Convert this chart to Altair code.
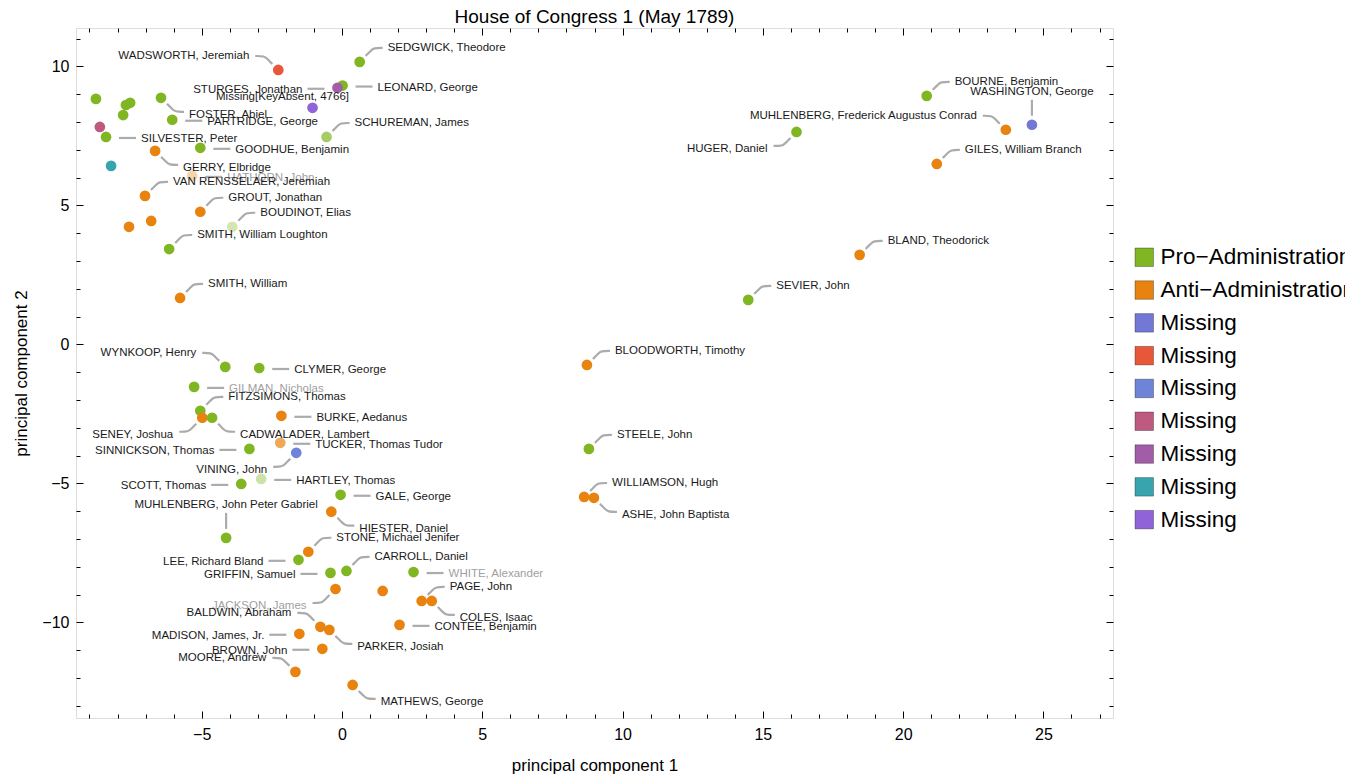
import altair as alt
import pandas as pd

# ---------------- data ----------------
names = [
    "WADSWORTH, Jeremiah", "SEDGWICK, Theodore", "LEONARD, George", "STURGES, Jonathan",
    "Missing[KeyAbsent, 4766]", "FOSTER, Abiel", "PARTRIDGE, George", "SILVESTER, Peter",
    "GOODHUE, Benjamin", "SCHUREMAN, James", "", "", "GERRY, Elbridge", "HATHORN, John",
    "VAN RENSSELAER, Jeremiah", "GROUT, Jonathan", "BOUDINOT, Elias", "", "",
    "SMITH, William Loughton", "SMITH, William", "", "", "", "",
    "WYNKOOP, Henry", "CLYMER, George", "GILMAN, Nicholas", "FITZSIMONS, Thomas",
    "SENEY, Joshua", "CADWALADER, Lambert", "BURKE, Aedanus", "TUCKER, Thomas Tudor",
    "VINING, John", "SINNICKSON, Thomas", "HARTLEY, Thomas", "SCOTT, Thomas",
    "GALE, George", "MUHLENBERG, John Peter Gabriel", "HIESTER, Daniel",
    "STONE, Michael Jenifer", "LEE, Richard Bland", "GRIFFIN, Samuel", "CARROLL, Daniel",
    "WHITE, Alexander", "JACKSON, James", "", "PAGE, John", "COLES, Isaac",
    "BALDWIN, Abraham", "PARKER, Josiah", "CONTEE, Benjamin", "MADISON, James, Jr.",
    "BROWN, John", "MOORE, Andrew", "MATHEWS, George", "BOURNE, Benjamin",
    "WASHINGTON, George", "MUHLENBERG, Frederick Augustus Conrad", "HUGER, Daniel",
    "GILES, William Branch", "BLAND, Theodorick", "SEVIER, John", "BLOODWORTH, Timothy",
    "STEELE, John", "WILLIAMSON, Hugh", "ASHE, John Baptista",
]
pc1 = [
    -2.27, 0.63, 0.02, -0.16, -1.05, -6.45, -6.05, -8.41, -5.05, -0.55, -8.63, -8.23,
    -6.66, -5.34, -7.02, -5.05, -3.91, -7.59, -6.80, -6.16, -5.77, -8.77, -7.55, -7.70,
    -7.80, -4.16, -2.95, -5.27, -5.05, -4.98, -4.63, -2.16, -2.20, -1.63, -3.30, -2.88,
    -3.59, -0.05, -4.13, -0.38, -1.20, -1.55, -0.41, 0.16, 2.55, -0.23, 1.45, 2.84, 3.20,
    -0.77, -0.45, 2.05, -1.52, -0.70, -1.66, 0.38, 20.84, 24.59, 23.66, 16.20, 21.20,
    18.45, 14.48, 8.73, 8.80, 8.63, 8.98,
]
pc2 = [
    9.87, 10.16, 9.31, 9.23, 8.51, 8.87, 8.08, 7.46, 7.07, 7.46, 7.82, 6.42,
    6.96, 6.06, 5.34, 4.77, 4.23, 4.23, 4.44, 3.43, 1.67, 8.83, 8.69, 8.61,
    8.25, -0.81, -0.85, -1.53, -2.39, -2.64, -2.64, -2.57, -3.54, -3.90, -3.76, -4.84,
    -5.02, -5.41, -6.96, -6.02, -7.46, -7.75, -8.22, -8.15, -8.19, -8.80, -8.87, -9.23, -9.23,
    -10.16, -10.27, -10.09, -10.41, -10.95, -11.78, -12.25, 8.94, 7.90, 7.72, 7.64, 6.49,
    3.22, 1.60, -0.74, -3.76, -5.49, -5.52,
]
party = [
    "M2", "Pro", "Pro", "M5", "M7", "Pro", "Pro", "Pro", "Pro", "Pro", "M4", "M6",
    "Anti", "Anti", "Anti", "Anti", "Pro", "Anti", "Anti", "Pro", "Anti", "Pro", "Pro", "Pro",
    "Pro", "Pro", "Pro", "Pro", "Pro", "Anti", "Pro", "Anti", "Anti", "M3", "Pro", "Pro",
    "Pro", "Pro", "Pro", "Anti", "Anti", "Pro", "Pro", "Pro", "Pro", "Anti", "Anti", "Anti", "Anti",
    "Anti", "Anti", "Anti", "Anti", "Anti", "Anti", "Anti", "Pro", "M1", "Anti", "Pro", "Anti",
    "Anti", "Pro", "Anti", "Pro", "Anti", "Anti",
]
callout = [
    "nw", "ne", "e", "w", "c", "se", "e", "e", "e", "ne", "", "",
    "se", "e", "ne", "ne", "ne", "", "", "ne", "ne", "", "", "",
    "", "nw", "e", "e", "ne", "sw", "se", "e", "e", "sw", "w", "e",
    "w", "e", "n", "se", "ne", "w", "w", "ne", "e", "sw", "", "ne", "se",
    "nw", "se", "e", "w", "w", "nw", "se", "ne", "n", "nw", "sw", "ne",
    "ne", "ne", "ne", "ne", "ne", "se",
]
faded_points = {"HATHORN, John": 0.35, "BOUDINOT, Elias": 0.35, "HARTLEY, Thomas": 0.4,
                "SCHUREMAN, James": 0.7, "TUCKER, Thomas Tudor": 0.7}
gray_labels = ["GILMAN, Nicholas", "JACKSON, James", "WHITE, Alexander", "HATHORN, John"]

party_names = {"Pro": "Pro\u2212Administration", "Anti": "Anti\u2212Administration"}
party_domain = ["Pro\u2212Administration", "Anti\u2212Administration"] + [f"Missing {i}" for i in range(1, 8)]
party_colors = ["#80B622", "#E8830F", "#7378D6", "#E8573A", "#6D84D8",
                "#BE5A80", "#A35CA8", "#38A4AE", "#9064D8"]

x_domain = [-9.48, 27.48]
y_domain = [-13.44, 11.38]
x_major = [-5, 0, 5, 10, 15, 20, 25]
y_major = [-10, -5, 0, 5, 10]
x_minor = [v for v in range(-9, 28) if v % 5]
y_minor = [v for v in range(-13, 12) if v % 5]

# ---------------- layout / style ----------------
W, H = 1037, 690
FONT = "Liberation Sans"
sx = W / (x_domain[1] - x_domain[0])
sy = H / (y_domain[1] - y_domain[0])

# callout geometry in screen pixels: (label offset, align, leader vertices)
CALLOUT = {
    "ne": ((28, -14), "left", [(6, -6), (11, -11), (14, -14), (23, -14)]),
    "se": ((28, 17), "left", [(6, 6), (11, 11), (14, 14), (23, 14)]),
    "nw": ((-29, -14), "right", [(-6, -6), (-11, -11), (-14, -14), (-23, -14)]),
    "sw": ((-29, 17), "right", [(-6, 6), (-11, 11), (-14, 14), (-23, 14)]),
    "e": ((35, 2), "left", [(13, 1), (30, 1)]),
    "w": ((-35, 2), "right", [(-13, 1), (-30, 1)]),
    "n": ((0, -33), "center", [(0, -9), (0, -25)]),
    "c": ((-30, -11), "center", []),
}

def party_label(p):
    return party_names.get(p, "Missing " + p[1:])

pts = pd.DataFrame({"name": names, "pc1": pc1, "pc2": pc2,
                    "party": [party_label(p) for p in party]})
pts["alpha"] = [faded_points.get(n, 1.0) for n in names]

lab_rows, lead_rows = [], []
for n, x, y, c in zip(names, pc1, pc2, callout):
    if not c:
        continue
    (ldx, ldy), align, verts = CALLOUT[c]
    lab_rows.append({"name": n, "lx": x + ldx / sx, "ly": y - ldy / sy, "align": align,
                     "tcolor": "#a0a0a0" if n in gray_labels else "#1a1a1a"})
    for k, (vx, vy) in enumerate(verts):
        lead_rows.append({"name": n, "k": k, "x": x + vx / sx, "y": y - vy / sy})
labs = pd.DataFrame(lab_rows)
leads = pd.DataFrame(lead_rows)

xs = alt.Scale(domain=x_domain, nice=False, zero=False)
ys = alt.Scale(domain=y_domain, nice=False, zero=False)


def tick_axis(orient, values, size, offset):
    return alt.Axis(orient=orient, values=values, tickSize=size, offset=offset,
                    labels=False, domain=False, grid=False, title=None,
                    tickColor="#000000", tickWidth=1)


leaders = alt.Chart(leads).mark_line(interpolate="basis", color="#ababab", strokeWidth=2.2).encode(
    x=alt.X("x:Q", scale=xs, axis=tick_axis("top", x_minor, 4, -H)),
    y=alt.Y("y:Q", scale=ys, axis=tick_axis("right", y_minor, 4, -W)),
    detail="name:N",
    order="k:O",
)

points = alt.Chart(pts).mark_circle(size=115).encode(
    x=alt.X("pc1:Q", scale=xs, axis=alt.Axis(
        orient="bottom", values=x_major, ticks=False, tickSize=0, domain=False, grid=False,
        labelPadding=8, labelFontSize=16, labelColor="#000000", labelFont=FONT,
        title="principal component 1", titleFontSize=17, titleFontWeight="normal",
        titleFont=FONT, titleColor="#000000", titlePadding=15)),
    y=alt.Y("pc2:Q", scale=ys, axis=alt.Axis(
        orient="left", values=y_major, ticks=False, tickSize=0, domain=False, grid=False,
        labelPadding=7, labelFontSize=16, labelColor="#000000", labelFont=FONT,
        title="principal component 2", titleFontSize=17, titleFontWeight="normal",
        titleFont=FONT, titleColor="#000000", titlePadding=11)),
    color=alt.Color("party:N", scale=alt.Scale(domain=party_domain, range=party_colors),
                    legend=alt.Legend(
                        title=None, orient="none", legendX=1057, legendY=218, padding=0,
                        symbolType="square", symbolSize=342, symbolOpacity=1,
                        symbolStrokeWidth=1, symbolStrokeColor="rgba(0,0,0,0.3)",
                        labelFontSize=22.5, labelFont=FONT, labelColor="#000000",
                        labelLimit=0, labelOffset=5, rowPadding=9.8,
                        labelExpr="indexof(datum.label, 'Missing') === 0 ? 'Missing' : datum.label")),
    opacity=alt.Opacity("alpha:Q", scale=None),
)

text_axes = {
    "left": (tick_axis("top", x_major, 7, -H), tick_axis("right", y_major, 7, -W)),
    "right": (tick_axis("bottom", x_major, 7, -H), tick_axis("left", y_major, 7, -W)),
    "center": (tick_axis("bottom", x_minor, 4, -H), tick_axis("left", y_minor, 4, -W)),
}
text_layers = []
for align, (axx, axy) in text_axes.items():
    text_layers.append(
        alt.Chart(labs[labs["align"] == align]).mark_text(
            align=align, baseline="middle", font=FONT, fontSize=11.5).encode(
            x=alt.X("lx:Q", scale=xs, axis=axx),
            y=alt.Y("ly:Q", scale=ys, axis=axy),
            text="name:N",
            color=alt.Color("tcolor:N", scale=None),
        )
    )

chart = alt.layer(leaders, points, *text_layers).resolve_axis(
    x="independent", y="independent"
).properties(
    width=W, height=H,
    title=alt.TitleParams("House of Congress 1 (May 1789)", fontSize=19, font=FONT,
                          fontWeight="normal", color="#000000", anchor="middle",
                          offset=1),
    autosize=alt.AutoSizeParams(type="none"),
    padding={"left": 68, "top": 20, "right": 232, "bottom": 56},
).configure_view(stroke="#000000", strokeWidth=1).configure(font=FONT)

chart.save("out.html", embed_options={"renderer": "svg", "actions": False})
